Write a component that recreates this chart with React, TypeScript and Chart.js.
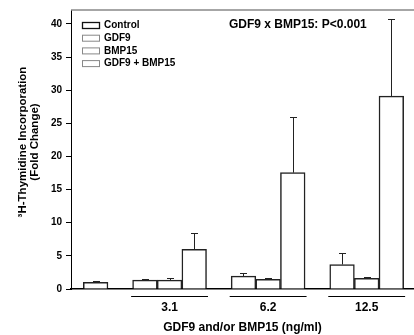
import React, { useEffect, useRef } from 'react';
import { Chart, registerables } from 'chart.js';
Chart.register(...registerables);

const doses = ['3.1', '6.2', '12.5'];
const seriesLabels = ['Control', 'GDF9', 'BMP15', 'GDF9 + BMP15'];
const controlValues = [1.0];
const controlErr = [0.15];
const gdf9Values = [1.35, 1.95, 3.7];
const gdf9Err = [0.15, 0.4, 1.75];
const bmp15Values = [1.35, 1.45, 1.6];
const bmp15Err = [0.25, 0.15, 0.25];
const comboValues = [6.0, 17.55, 29.1];
const comboErr = [2.4, 8.35, 11.7];
const yTicks = [0, 5, 10, 15, 20, 25, 30, 35, 40];
const xTitle = 'GDF9 and/or BMP15 (ng/ml)';
const yTitle = ['\u00B3H-Thymidine Incorporation', '(Fold Change)'];
const annotation = 'GDF9 x BMP15: P<0.001';

const FONT = "'Liberation Sans', Arial, sans-serif";
const groupCenter = (g: number) => 4 + 4 * g;

const errs = [controlErr, gdf9Err, bmp15Err, comboErr];

const overlay = {
  id: 'overlay',
  afterDatasetsDraw(chart: any) {
    const { ctx, chartArea, scales } = chart;
    const x = scales.x;
    const y = scales.y;
    ctx.save();
    // error bars
    chart.data.datasets.forEach((ds: any, di: number) => {
      const meta = chart.getDatasetMeta(di);
      meta.data.forEach((el: any, i: number) => {
        const v = ds.data[i].y;
        const e = errs[di][i];
        const yTop = y.getPixelForValue(v + e);
        ctx.strokeStyle = '#222';
        ctx.lineWidth = 1;
        ctx.beginPath();
        ctx.moveTo(Math.round(el.x) + 0.5, el.y);
        ctx.lineTo(Math.round(el.x) + 0.5, Math.round(yTop) + 0.5);
        ctx.moveTo(Math.round(el.x) - 3, Math.round(yTop) + 0.5);
        ctx.lineTo(Math.round(el.x) + 4, Math.round(yTop) + 0.5);
        ctx.stroke();
      });
    });
    // top frame
    ctx.strokeStyle = '#888';
    ctx.lineWidth = 1.5;
    ctx.beginPath();
    ctx.moveTo(chartArea.left, chartArea.top);
    ctx.lineTo(chartArea.right, chartArea.top);
    ctx.stroke();
    // group underlines
    ctx.strokeStyle = '#000';
    ctx.lineWidth = 1;
    doses.forEach((_, g) => {
      const c = groupCenter(g);
      const x1 = x.getPixelForValue(c - 1.56);
      const x2 = x.getPixelForValue(c + 1.56);
      ctx.beginPath();
      ctx.moveTo(x1, chartArea.bottom + 7.5);
      ctx.lineTo(x2, chartArea.bottom + 7.5);
      ctx.stroke();
    });
    // legend
    ctx.font = `bold 10px ${FONT}`;
    ctx.textBaseline = 'middle';
    ctx.textAlign = 'left';
    seriesLabels.forEach((lab, i) => {
      const by = chartArea.top + 12 + i * 12.7;
      ctx.fillStyle = '#fff';
      ctx.fillRect(chartArea.left + 11, by, 18, 6);
      ctx.strokeStyle = i === 0 ? '#111' : '#888';
      ctx.lineWidth = i === 0 ? 1.3 : 1;
      ctx.strokeRect(chartArea.left + 11.5, by + 0.5, 17, 6);
      ctx.fillStyle = '#000';
      ctx.fillText(lab, chartArea.left + 33, by + 3.5);
    });
    // annotation
    ctx.font = `bold 12px ${FONT}`;
    ctx.fillText(annotation, 229, 25);
    // y title
    ctx.font = `bold 11.5px ${FONT}`;
    ctx.save();
    ctx.translate(23, 142);
    ctx.rotate(-Math.PI / 2);
    ctx.textAlign = 'center';
    ctx.fillText(yTitle[0], 0, 0);
    ctx.fillText(yTitle[1], 0, 12);
    ctx.restore();
    ctx.restore();
  },
};

export default function App() {
  const ref = useRef<HTMLCanvasElement | null>(null);
  useEffect(() => {
    if (!ref.current) return;
    const mk = (label: string, xs: number[], vals: number[], border: string) => ({
      label,
      data: vals.map((v, i) => ({ x: xs[i], y: v })),
      backgroundColor: '#fff',
      borderColor: border,
      borderWidth: 1.5,
      borderSkipped: 'bottom' as const,
      grouped: false,
      categoryPercentage: 1,
      barPercentage: 1,
    });
    const chart = new Chart(ref.current, {
      type: 'bar',
      data: {
        datasets: [
          mk(seriesLabels[0], [1], controlValues, '#222'),
          mk(seriesLabels[1], doses.map((_, g) => groupCenter(g) - 1), gdf9Values, '#222'),
          mk(seriesLabels[2], doses.map((_, g) => groupCenter(g)), bmp15Values, '#222'),
          mk(seriesLabels[3], doses.map((_, g) => groupCenter(g) + 1), comboValues, '#222'),
        ],
      },
      options: {
        animation: false,
        responsive: false,
        maintainAspectRatio: false,
        layout: { padding: { top: 8, right: 0, left: 0, bottom: 0 } },
        plugins: { legend: { display: false }, tooltip: { enabled: false } },
        scales: {
          x: {
            type: 'linear',
            offset: false,
            min: 0,
            max: 13.92,
            afterFit: (s: any) => { s.height = 46; },
            afterBuildTicks: (s: any) => { s.ticks = doses.map((_, g) => ({ value: groupCenter(g) })); },
            grid: { display: false, drawTicks: false, offset: false },
            border: { display: true, color: '#000', width: 1.5 },
            ticks: {
              padding: 11,
              color: '#000',
              font: { family: FONT, size: 12, weight: 'bold' },
              callback: (v: any) => doses[Math.round((Number(v) - 4) / 4)] ?? '',
            },
            title: {
              display: true,
              text: xTitle,
              color: '#000',
              padding: { top: 0, bottom: 0 },
              font: { family: FONT, size: 12, weight: 'bold' },
            },
          },
          y: {
            min: 0,
            max: 42.1,
            afterFit: (s: any) => { s.width = 71; },
            afterBuildTicks: (s: any) => { s.ticks = yTicks.map((v) => ({ value: v })); },
            grid: { drawOnChartArea: false, drawTicks: true, tickLength: 5, color: '#000' },
            border: { display: true, color: '#000', width: 1 },
            ticks: {
              padding: 4,
              color: '#000',
              font: { family: FONT, size: 10, weight: 'bold' },
            },
          },
        },
      },
      plugins: [overlay],
    } as any);
    return () => chart.destroy();
  }, []);
  return (
    <div style={{ position: 'fixed', left: 0, top: 0, width: 414, height: 335, background: '#fff' }}>
      <canvas ref={ref} width={414} height={335} />
    </div>
  );
}
